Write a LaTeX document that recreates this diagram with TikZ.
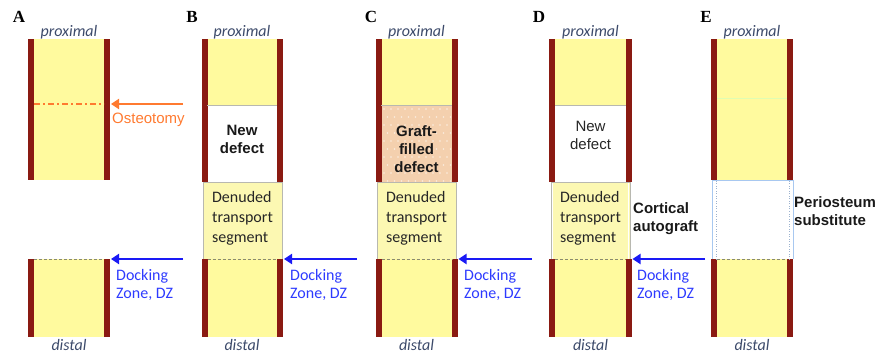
\documentclass[tikz,border=0pt]{standalone}
\usepackage{fontspec}
\setmainfont{Liberation Sans}
\newfontfamily\calibri{Carlito}
\newfontfamily\timesf{Liberation Serif}
\usetikzlibrary{fit,arrows.meta}

\definecolor{bone}{HTML}{FFFA9E}
\definecolor{trans}{HTML}{FCF8B2}
\definecolor{wallred}{HTML}{8A1A12}
\definecolor{peach}{HTML}{F4D0AE}
\definecolor{osteo}{HTML}{FF7A30}
\definecolor{dzblue}{HTML}{1A1AF5}
\definecolor{dztext}{HTML}{2E3BFF}
\definecolor{slate}{HTML}{3C4A6A}
\definecolor{edgegray}{HTML}{B8B8B0}
\definecolor{peri}{HTML}{A8C8F0}
\definecolor{dzdash}{HTML}{8A8A70}

\begin{document}
\begin{tikzpicture}[x=1pt,y=-1pt,
  seg/.style={inner sep=0pt, outer sep=0pt},
  boneseg/.style={seg, fill=bone},
  wall/.style={seg, fill=wallred},
  transseg/.style={seg, fill=trans},
  defectseg/.style={seg, fill=white},
  graftseg/.style={seg, fill=peach},
  periseg/.style={seg, fill=white},
  panellab/.style={font=\timesf\bfseries\fontsize{17}{17}\selectfont},
  endlab/.style={font=\calibri\itshape\fontsize{16}{16}\selectfont, text=slate, inner sep=0pt},
  segtext/.style={font=\calibri\fontsize{16}{20}\selectfont, align=left, text=black!85, inner sep=0pt},
  dztxt/.style={font=\calibri\fontsize{16}{18}\selectfont, align=left, text=dztext, anchor=west, inner sep=0pt},
  boldtxt/.style={font=\bfseries\fontsize{15}{18}\selectfont, align=center, inner sep=0pt, text=black!90},
  sidetxt/.style={font=\bfseries\fontsize{15}{17.5}\selectfont, align=left, anchor=west, inner sep=0pt, text=black!90},
  dzarrow/.style={draw=dzblue, line width=2.8pt, -{Triangle[length=8pt,width=10pt]}, shorten >=1pt},
  osarrow/.style={draw=osteo, line width=2.8pt, -{Triangle[length=8pt,width=10pt]}, shorten >=1pt},
  dzline/.style={draw=dzdash, dash pattern=on 3pt off 2pt, line width=0.8pt},
  segedge/.style={draw=edgegray, line width=0.6pt},
]
\useasboundingbox (0,0) rectangle (875,358);

% ================= Panel A =================
\node[panellab] (lA) at (19,17) {A};
\node[boneseg, fit={(33,39) (105,180)}] (Au) {};
\node[boneseg, fit={(33,259) (105,337)}] (Al) {};
\node[wall, fit={(28,39) (34,180)}] (Aul) {};
\node[wall, fit={(104,39) (110,180)}] (Aur) {};
\node[wall, fit={(28,259) (34,337)}] (All) {};
\node[wall, fit={(104,259) (110,337)}] (Alr) {};
\draw[osteo, line width=1.3pt, dash pattern=on 6pt off 3pt on 2pt off 3pt]
  (Aul.east |- 0,104) -- (Aur.west |- 0,104);
\coordinate (Aos) at (183,104);
\draw[osarrow] (Aos) -- (Aur.east |- Aos);
\node[anchor=west, text=osteo, font=\fontsize{15}{15}\selectfont, inner sep=0pt] (Aost) at (112,120) {Osteotomy};
\draw[dzline] (All.north east) -- (Alr.north west);
\coordinate (Adz) at (183,259);
\draw[dzarrow] (Adz) -- (Alr.east |- Adz);
\node[dztxt] (Adzt) at (116,285) {Docking\\Zone, DZ};
\node[endlab] (Aprox) at ([yshift=7pt]Au.north) {proximal};
\node[endlab] (Adist) at ([yshift=-8pt]Al.south) {distal};

% ================= Panel B =================
\node[panellab] (lB) at (192,17) {B};
\node[boneseg, fit={(207,39) (277,105)}] (Bu) {};
\node[defectseg, fit={(207,105) (277,182)}] (Bd) {};
\node[transseg, fit={(203,182) (282,259)}] (Bt) {};
\node[boneseg, fit={(207,259) (277,337)}] (Bl) {};
\node[wall, fit={(202,39) (207.5,182)}] (Bul) {};
\node[wall, fit={(277,39) (283,182)}] (Bur) {};
\node[wall, fit={(202,259) (207.5,337)}] (Bll) {};
\node[wall, fit={(277,259) (283,337)}] (Blr) {};
\draw[segedge] (Bd.north west) -- (Bd.north east);
\draw[segedge] (Bt.south west) -- (Bt.north west) -- (Bt.north east) -- (Bt.south east);
\draw[dzline] (Bll.north east) -- (Blr.north west);
\node[boldtxt] (Bdt) at ([yshift=4pt]Bd.center) {New\\defect};
\node[segtext] (Btt) at ([yshift=2pt]Bt.center) {Denuded\\transport\\segment};
\coordinate (Bdz) at (357,259);
\draw[dzarrow] (Bdz) -- (Blr.east |- Bdz);
\node[dztxt] (Bdzt) at (290,285) {Docking\\Zone, DZ};
\node[endlab] (Bprox) at ([yshift=7pt]Bu.north) {proximal};
\node[endlab] (Bdist) at ([yshift=-8pt]Bl.south) {distal};

% ================= Panel C =================
\node[panellab] (lC) at (371,17) {C};
\node[boneseg, fit={(381,39) (452,105)}] (Cu) {};
\node[graftseg, fit={(381,105) (452,182)}] (Cd) {};
\foreach \i in {0,...,9} {
  \foreach \j in {0,...,9} {
    \pgfmathsetmacro{\xx}{384 + 7*\i + 3.5*mod(\j,2)}
    \pgfmathsetmacro{\yy}{109 + 8*\j}
    \fill[white, opacity=0.6] (\xx,\yy) circle (0.8pt);
  }
}
\node[transseg, fit={(377,182) (456,259)}] (Ct) {};
\node[boneseg, fit={(381,259) (452,337)}] (Cl) {};
\node[wall, fit={(376,39) (381.5,182)}] (Cul) {};
\node[wall, fit={(452,39) (457.5,182)}] (Cur) {};
\node[wall, fit={(376,259) (381.5,337)}] (Cll) {};
\node[wall, fit={(452,259) (457.5,337)}] (Clr) {};
\draw[segedge] (Cd.north west) -- (Cd.north east);
\draw[segedge] (Ct.south west) -- (Ct.north west) -- (Ct.north east) -- (Ct.south east);
\draw[dzline] (Cll.north east) -- (Clr.north west);
\node[boldtxt] (Cdt) at ([yshift=-6pt]Cd.center) {Graft-\\filled\\defect};
\node[segtext] (Ctt) at ([yshift=2pt]Ct.center) {Denuded\\transport\\segment};
\coordinate (Cdz) at (532,259);
\draw[dzarrow] (Cdz) -- (Clr.east |- Cdz);
\node[dztxt] (Cdzt) at (464,285) {Docking\\Zone, DZ};
\node[endlab] (Cprox) at ([yshift=7pt]Cu.north) {proximal};
\node[endlab] (Cdist) at ([yshift=-8pt]Cl.south) {distal};

% ================= Panel D =================
\node[panellab] (lD) at (539,17) {D};
\node[boneseg, fit={(555,39) (626,105)}] (Du) {};
\node[defectseg, fit={(555,105) (626,182)}] (Dd) {};
\node[transseg, fit={(551,182) (630,259)}] (Dt) {};
\node[boneseg, fit={(555,259) (626,337)}] (Dl) {};
\node[wall, fit={(549,39) (555,182)}] (Dul) {};
\node[wall, fit={(626,39) (631.5,182)}] (Dur) {};
\node[wall, fit={(549,259) (555,337)}] (Dll) {};
\node[wall, fit={(626,259) (631.5,337)}] (Dlr) {};
\draw[segedge] (Dd.north west) -- (Dd.north east);
\draw[segedge] (Dt.south west) -- (Dt.north west) -- (Dt.north east) -- (Dt.south east);
\draw[white, line width=0.8pt] ([xshift=1.6pt]Dt.south west) -- ([xshift=1.6pt,yshift=-1pt]Dt.north west);
\draw[white, line width=0.8pt] ([xshift=-1.6pt]Dt.south east) -- ([xshift=-1.6pt,yshift=-1pt]Dt.north east);
\draw[dzline] (Dll.north east) -- (Dlr.north west);
\node[font=\fontsize{15}{17.5}\selectfont, align=center, inner sep=0pt, text=black!85] (Ddt) at ([yshift=8pt]Dd.center) {New\\defect};
\node[segtext] (Dtt) at ([yshift=2pt]Dt.center) {Denuded\\transport\\segment};
\node[sidetxt] (Dct) at (633,218.5) {Cortical\\autograft};
\coordinate (Ddz) at (705,259);
\draw[dzarrow] (Ddz) -- (Dlr.east |- Ddz);
\node[dztxt] (Ddzt) at (637,285) {Docking\\Zone, DZ};
\node[endlab] (Dprox) at ([yshift=7pt]Du.north) {proximal};
\node[endlab] (Ddist) at ([yshift=-8pt]Dl.south) {distal};

% ================= Panel E =================
\node[panellab] (lE) at (706,17) {E};
\node[boneseg, fit={(716,39) (788,181)}] (Eu) {};
\node[periseg, fit={(712,181) (793,259)}] (Em) {};
\node[boneseg, fit={(716,259) (788,337)}] (El) {};
\draw[bone!80!green!60!white, line width=0.6pt] (716,98) -- (788,98);
\node[wall, fit={(711,39) (717,180)}] (Eul) {};
\node[wall, fit={(787,39) (792.5,180)}] (Eur) {};
\node[wall, fit={(711,259) (717,337)}] (Ell) {};
\node[wall, fit={(787,259) (792.5,337)}] (Elr) {};
\draw[peri, line width=1pt] (Em.south west) -- (Em.north west) -- (Em.north east) -- (Em.south east);
\draw[peri!70!gray, line width=0.5pt, dotted] ([xshift=4pt]Em.south west) -- ([xshift=4pt]Em.north west);
\draw[peri!70!gray, line width=0.5pt, dotted] ([xshift=-4pt]Em.south east) -- ([xshift=-4pt]Em.north east);
\draw[dzline] (Ell.north east) -- (Elr.north west);
\node[sidetxt] (Ept) at (794,211) {Periosteum\\substitute};
\node[endlab] (Eprox) at ([yshift=7pt]Eu.north) {proximal};
\node[endlab] (Edist) at ([yshift=-8pt]El.south) {distal};
\end{tikzpicture}
\end{document}
